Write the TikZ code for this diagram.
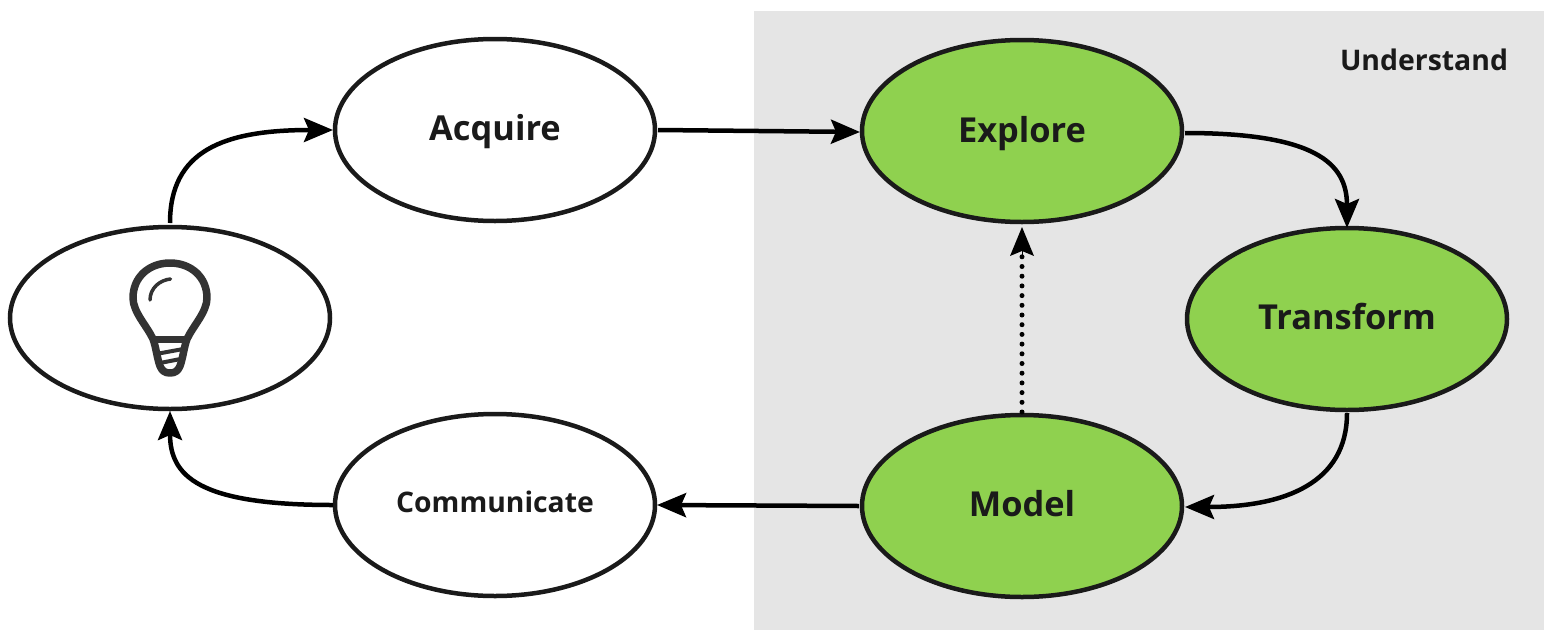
\documentclass[tikz,border=0pt]{standalone}
\usepackage{fontspec}
\setmainfont{Open Sans}
\usetikzlibrary{shapes.geometric,arrows.meta}
\definecolor{inkc}{HTML}{1A1A1A}
\definecolor{greenc}{HTML}{8FD14F}
\definecolor{panelc}{HTML}{E5E5E5}
\definecolor{bulbc}{HTML}{333333}
\tikzset{
  stage/.style={ellipse,draw=inkc,line width=4.5pt,fill=white,minimum width=320pt,minimum height=182pt,inner sep=0pt,outer sep=0pt,font=\bfseries\fontsize{34.4}{36}\selectfont,text=inkc,text height=21pt,text depth=0pt},
  greenstage/.style={stage,fill=greenc},
  tiplink/.style={-{Stealth[length=29pt,width=24pt,inset=5pt]}},
  link/.style={line width=4.5pt,black,tiplink},
  dottedlink/.style={line width=5pt,black,line cap=round,dash pattern=on 0pt off 9.7pt},
  bulbline/.style={draw=bulbc,line width=7.5pt,line cap=round,line join=round},
}
\begin{document}
\begin{tikzpicture}[x=1pt,y=-1pt]
\useasboundingbox (0,0) rectangle (1553,643);
\fill[panelc] (754,11) rectangle (1544,630);
\node[font=\bfseries\fontsize{28.4}{30}\selectfont,text=inkc,text height=20pt,text depth=0pt,inner sep=0pt] (understand) at (1424,60) {Understand};
\node[stage] (bulb) at (170,318) {};
\node[stage] (acquire) at (495,130) {Acquire};
\node[greenstage,text height=23pt] (explore) at (1022,131) {Explore};
\node[greenstage] (transform) at (1347,319) {Transform};
\node[greenstage] (model) at (1022,506) {Model};
\node[stage,font=\bfseries\fontsize{28.3}{30}\selectfont,text height=14pt] (communicate) at (495,505) {Communicate};
% connectors
\draw[link] ([yshift=4pt]bulb.north) .. controls +(0,-72) and +(-110,0) .. ([xshift=-2pt]acquire.west);
\draw[link] ([xshift=3pt]acquire.east) -- ([xshift=-2pt,yshift=-1pt]explore.west);
\draw[link] ([xshift=3pt,yshift=-2pt]explore.east) .. controls +(130,0) and +(0,-65) .. ([yshift=0pt]transform.north);
\draw[link] ([yshift=-3pt]transform.south) .. controls +(0,70) and +(100,0) .. ([xshift=3pt,yshift=-1pt]model.east);
\draw[link] ([xshift=-3pt]model.west) -- ([xshift=2pt]communicate.east);
\draw[link] ([xshift=-2pt]communicate.west) .. controls +(-135,0) and +(0,65) .. ([yshift=-2pt]bulb.south);
\draw[dottedlink] ([yshift=3pt]model.north) -- ([yshift=-32pt]explore.south);
\draw[black,tiplink,line width=0pt] ([yshift=-33pt]explore.south) -- ([yshift=-5pt]explore.south);
% bulb icon
\draw[bulbline] (153,339) .. controls (147,326) and (133,312) .. (133,298)
  .. controls (133,277) and (149,263) .. (170,263)
  .. controls (191,263) and (207,277) .. (207,298)
  .. controls (207,312) and (193,326) .. (187,339)
  .. controls (184,347) and (183,358) .. (180,366)
  .. controls (178,371) and (175,373) .. (170,373)
  .. controls (165,373) and (162,371) .. (160,366)
  .. controls (157,358) and (156,347) .. (153,339) -- cycle;
\draw[bulbline,line cap=butt] (151,339.5) -- (189,339.5);
\draw[bulbc,line width=4pt] (156,354) -- (186,348.5);
\draw[bulbc,line width=4pt] (160,363) -- (183,358.5);
\draw[bulbc,line width=3.5pt,line cap=round] (150,300) .. controls (150,288) and (160,280) .. (170.5,279);
\end{tikzpicture}
\end{document}
